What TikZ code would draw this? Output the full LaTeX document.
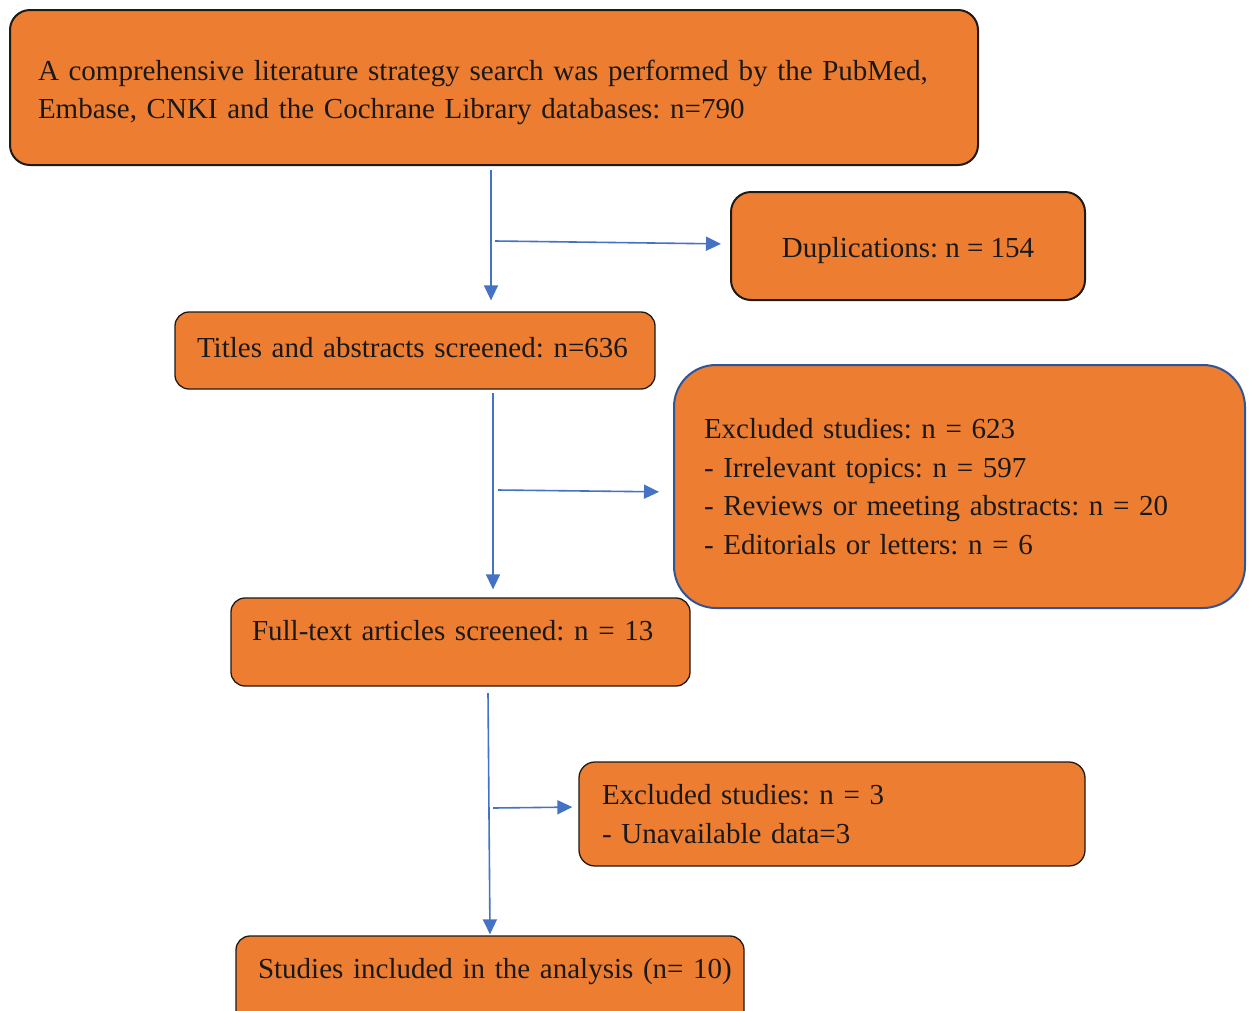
\documentclass[tikz,border=0pt]{standalone}
\usepackage{fontspec}
\setmainfont{Liberation Serif}
\usetikzlibrary{arrows.meta}
\definecolor{boxfill}{HTML}{ED7D31}
\definecolor{arrblue}{HTML}{4472C4}
\definecolor{boxline}{HTML}{1E1A16}
\definecolor{blueline}{HTML}{2F5597}
\tikzset{
  flowbox/.style={draw=boxline, line width=1.6pt, fill=boxfill, rounded corners=20pt,
    font=\fontsize{29}{38.5}\selectfont\frenchspacing, text=black!90, inner ysep=0pt},
  arr/.style={draw=arrblue, line width=1.6pt, -{Triangle[length=15pt,width=14pt]}}
}
\begin{document}
\begin{tikzpicture}[x={(1pt,0)}, y={(0,-1pt)}]
\useasboundingbox (0,0) rectangle (1249,1010);
\fill[white] (0,0) rectangle (1249,1010);

\node[flowbox, line width=2pt, minimum width=968pt, minimum height=155pt, inner xsep=28pt,
  text width=912pt, align=left] (top) at (494,87.5)
  {\rule{0pt}{30pt}A comprehensive literature strategy search was performed by the PubMed,\\Embase, CNKI and the Cochrane Library databases: n=790};

\node[flowbox, line width=2pt, minimum width=354pt, minimum height=108pt, align=center,
  text height=22pt, text depth=0pt] (dup) at (908,246)
  {Duplications: n = 154};

\node[flowbox, line width=1.3pt, rounded corners=14pt, minimum width=480pt, minimum height=77pt, inner xsep=22pt,
  text width=436pt, align=left, text height=21pt, text depth=7pt] (titles) at (415,350.5)
  {Titles and abstracts screened: n=636};

\node[flowbox, line width=1.3pt, rounded corners=14pt, minimum width=459pt, minimum height=88pt, inner xsep=21pt,
  text width=417pt, align=left, text height=21pt, text depth=25pt] (full) at (460.5,642)
  {Full-text articles screened: n = 13};

\node[flowbox, draw=blueline, line width=2pt, rounded corners=42pt, minimum width=571pt, minimum height=243pt,
  inner xsep=30pt, text width=511pt, align=left] (excl1) at (959.5,486.5)
  {Excluded studies: n = 623\\- Irrelevant topics: n = 597\\- Reviews or meeting abstracts: n = 20\\- Editorials or letters: n = 6};

\node[flowbox, line width=1.3pt, rounded corners=16pt, minimum width=506pt, minimum height=104pt, inner xsep=23pt,
  text width=460pt, align=left] (excl2) at (832,814)
  {Excluded studies: n = 3\\- Unavailable data=3};

\node[flowbox, line width=1.3pt, rounded corners=14pt, minimum width=508pt, minimum height=90pt, inner xsep=22pt,
  text width=464pt, align=left, text height=21pt, text depth=27pt] (incl) at (490,981)
  {\mbox{Studies included in the analysis (n=~10)}};

% connectors
\coordinate (s1) at (491,170);
\coordinate (b1) at (495,241);
\coordinate (s2) at (493,393);
\coordinate (b2) at (498,490);
\coordinate (s3) at (488,693);
\coordinate (b3) at (493,808);

\draw[arr, shorten >=11pt] (s1) -- (titles.north -| s1);
\draw[arr, shorten >=9pt] (b1) -- (dup.west |- 0,244);
\draw[arr, shorten >=8pt] (s2) -- (full.north -| s2);
\draw[arr, shorten >=14pt] (b2) -- (excl1.west |- 0,492);
\draw[arr, shorten >=1pt] (s3) -- (incl.north -| 490,0);
\draw[arr, shorten >=6pt] (b3) -- (excl2.west |- 0,807);
\end{tikzpicture}
\end{document}
